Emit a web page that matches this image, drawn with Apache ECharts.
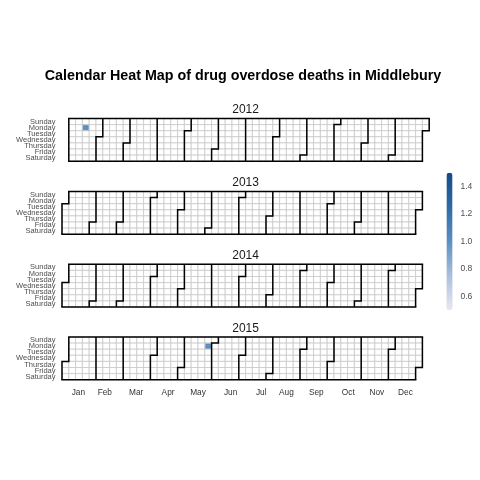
<!DOCTYPE html>
<html>
<head>
<meta charset="utf-8">
<script src="https://cdn.jsdelivr.net/npm/echarts@6/dist/echarts.min.js"></script>
<style>html,body{margin:0;padding:0;background:#fff;}#c{width:480px;height:480px;}</style>
</head>
<body>
<div id="c"></div>
<script>
var years = [2012, 2013, 2014, 2015];
var deathDates = ['2012-01-16', '2015-05-25'];
var deathCounts = [1, 1];
var dayNames = ['Sunday', 'Monday', 'Tuesday', 'Wednesday', 'Thursday', 'Friday', 'Saturday'];
var monthNames = ['Jan', 'Feb', 'Mar', 'Apr', 'May', 'Jun', 'Jul', 'Aug', 'Sep', 'Oct', 'Nov', 'Dec'];
var monthWeekPos = [2.4, 6.3, 10.9, 15.6, 20.0, 24.8, 29.3, 33.0, 37.4, 42.1, 46.3, 50.5];
var colorbarTicks = [0.6, 0.8, 1.0, 1.2, 1.4];
var colorMin = 0.5, colorMax = 1.5;

var chart = echarts.init(document.getElementById('c'), null, {renderer: 'canvas'});

var cellW = 6.8, cellH = 6.1;
var gridLeft = 62;
var panelTops = [118.5, 191.5, 264.3, 337];

// first week-of-year column index (%U) for each year: 1 if Jan 1 is Sunday, else 0
function firstCol(y) { return new Date(y, 0, 1).getDay() === 0 ? 1 : 0; }

var calendars = [], series = [], graphics = [];
years.forEach(function (y, i) {
  var off = firstCol(y) * cellW;
  calendars.push({
    left: gridLeft + off,
    top: panelTops[i],
    cellSize: [cellW, cellH],
    range: String(y),
    orient: 'horizontal',
    itemStyle: {color: '#ffffff', borderColor: '#c4c4c4', borderWidth: 0.7},
    splitLine: {show: true, lineStyle: {color: '#000', width: 1.5}},
    dayLabel: {show: true, firstDay: 0, position: 'start', nameMap: dayNames,
      margin: 6.5 + off, fontSize: 7.5, color: '#4d4d4d', fontFamily: 'Liberation Sans'},
    monthLabel: {show: false},
    yearLabel: {show: false}
  });
  var data = [];
  deathDates.forEach(function (d, k) {
    if (d.slice(0, 4) === String(y)) data.push([d, deathCounts[k]]);
  });
  series.push({type: 'heatmap', coordinateSystem: 'calendar', calendarIndex: i, data: data,
    itemStyle: {borderColor: '#c4c4c4', borderWidth: 0.5}});
  graphics.push({type: 'text', x: gridLeft + 54 * cellW / 2, y: panelTops[i] - 8.5,
    style: {text: String(y), fill: '#1a1a1a', font: '12px "Liberation Sans"', align: 'center', verticalAlign: 'middle'}});
});

// dummy series to anchor axes
series.push({type: 'line', xAxisIndex: 0, yAxisIndex: 0, data: [], silent: true});
series.push({type: 'line', xAxisIndex: 1, yAxisIndex: 1, data: [], silent: true});

graphics.push({type: 'text', x: 243, y: 76,
  style: {text: 'Calendar Heat Map of drug overdose deaths in Middlebury', fill: '#000',
    font: 'bold 14.3px "Liberation Sans"', align: 'center', verticalAlign: 'middle'}});

var option = {
  backgroundColor: '#fff',
  animation: false,
  calendar: calendars,
  grid: [
    {left: gridLeft, top: 380, width: 54 * cellW, height: 1, containLabel: false},
    {left: 446.5, top: 172.7, width: 6, height: 137.3, containLabel: false}
  ],
  xAxis: [
    {gridIndex: 0, type: 'value', min: 0, max: 54, position: 'bottom',
      axisLine: {show: false}, axisTick: {show: false}, splitLine: {show: false},
      axisLabel: {customValues: monthWeekPos, margin: 8, fontSize: 8.3, color: '#333', fontFamily: 'Liberation Sans',
        formatter: function (v) {
          for (var k = 0; k < monthWeekPos.length; k++) if (Math.abs(monthWeekPos[k] - v) < 1e-6) return monthNames[k];
          return '';
        }}},
    {gridIndex: 1, type: 'value', min: 0, max: 1, show: false}
  ],
  yAxis: [
    {gridIndex: 0, type: 'value', show: false, min: 0, max: 1},
    {gridIndex: 1, type: 'value', min: colorMin, max: colorMax, position: 'right',
      axisLine: {show: false}, axisTick: {show: false}, splitLine: {show: false},
      axisLabel: {customValues: colorbarTicks, margin: 8, fontSize: 8.5, color: '#4d4d4d', fontFamily: 'Liberation Sans',
        formatter: function (v) { return v.toFixed(1); }}}
  ],
  visualMap: {
    type: 'continuous', min: colorMin, max: colorMax, calculable: false,
    seriesIndex: [0, 1, 2, 3],
    left: 446.5, top: 172.7, itemWidth: 6, itemHeight: 137.3, padding: 0,
    text: null, showLabel: false,
    inRange: {color: ['#e9e8f3', '#a9c0dd', '#5b8fc3', '#2f6aa6', '#144b86']}
  },
  graphic: graphics,
  series: series
};
chart.setOption(option);
</script>
</body>
</html>
